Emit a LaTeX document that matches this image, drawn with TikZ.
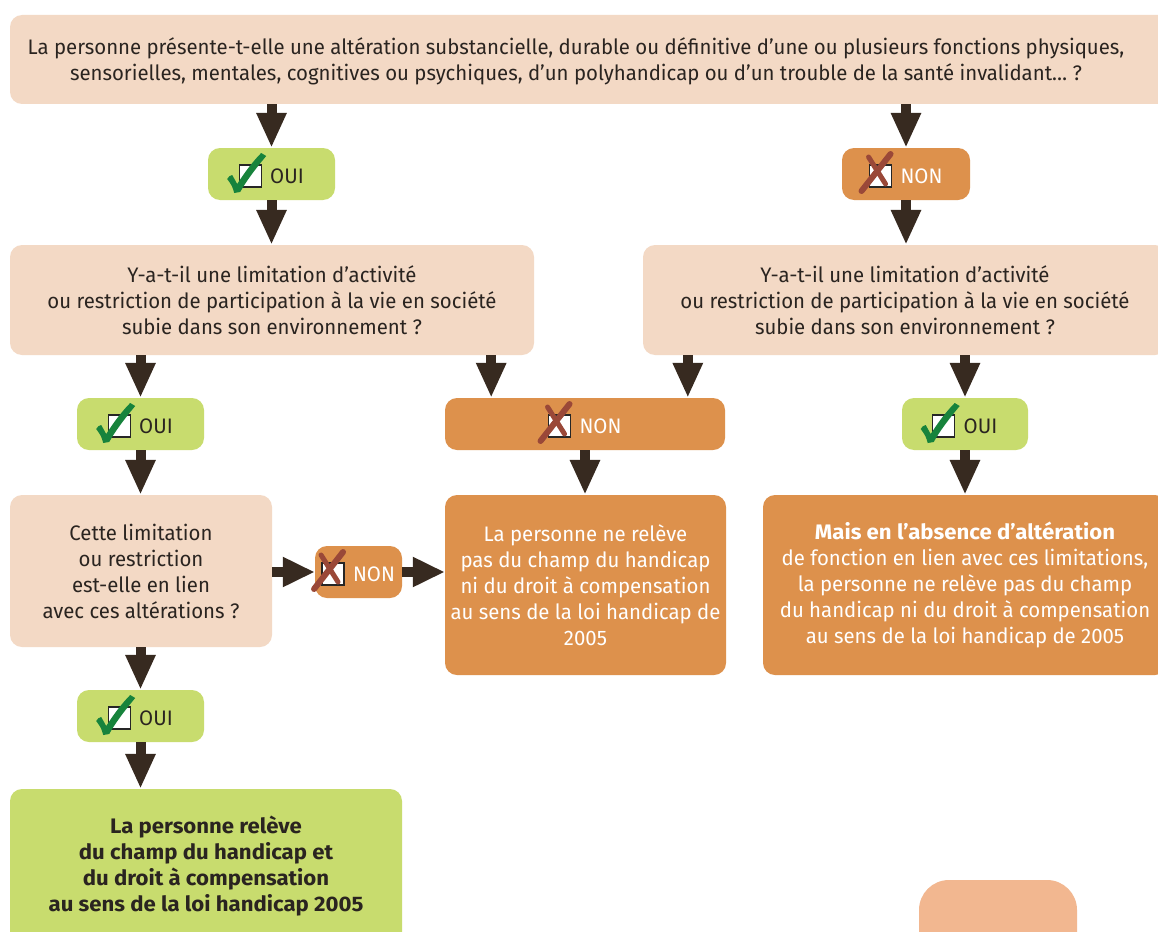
\documentclass[tikz,border=0pt]{standalone}
\usepackage{fontspec}
\setmainfont{Fira Sans}[FakeStretch=0.97]
\newfontfamily\boldfam{Fira Sans}[FakeStretch=1.055]
\usetikzlibrary{arrows.meta,calc}
\definecolor{beige}{HTML}{F3D9C5}
\definecolor{oui}{HTML}{C8DC6E}
\definecolor{non}{HTML}{DD914C}
\definecolor{pale}{HTML}{F2B790}
\definecolor{arrowc}{HTML}{372A20}
\definecolor{txt}{HTML}{2A2420}
\definecolor{chkgreen}{HTML}{17833C}
\definecolor{xred}{HTML}{9A4838}
\tikzset{
  box/.style={rectangle, rounded corners=12pt, inner sep=0pt, align=center, text=txt},
  qbox/.style={box, fill=beige},
  ouibox/.style={box, fill=oui, text height=18pt, text depth=0pt},
  nonbox/.style={box, fill=non, text=white},
  smallnon/.style={nonbox, text height=18pt, text depth=0pt},
  arr/.style={draw=arrowc, line width=10pt, -{Triangle[width=28pt,length=35pt]}},
  harr/.style={draw=arrowc, line width=10pt, -{Triangle[width=28pt,length=32pt]}},
  chkicon/.pic={
    \draw[line width=1.1pt, fill=white, draw=black!85] (-11,-11) rectangle (11,11);
    \fill[chkgreen] (-23,3) .. controls (-21,0) .. (-18,-1) -- (-13,8)
       .. controls (-4,-6) and (4,-16) .. (11,-23) -- (16,-20)
       .. controls (6,-8) and (-4,5) .. (-10,16) -- (-16,17)
       .. controls (-18,10) .. (-23,3) -- cycle;
  },
  xicon/.pic={
    \draw[line width=1.1pt, fill=white, draw=black!85] (-11,-11) rectangle (11,11);
    \draw[xred, line width=6pt, line cap=round] (-19,15) -- (10,-22);
    \draw[xred, line width=5pt, line cap=round] (-12,-19) -- (5,8);
  }
}
\newcommand\iconsp{\hspace*{31pt}}
\begin{document}
\begin{tikzpicture}[x=1pt,y=-1pt,font=\fontsize{21}{26}\selectfont]
\clip (0,0) rectangle (1158,931);
\fill[white] (0,0) rectangle (1158,931);
% boxes
\node[qbox, minimum width=1160pt, minimum height=89pt] (q1) at (590,59.5) {};
\node[align=center, text=txt, inner sep=0pt] (q1t) at (576,61)
  {La personne présente-t-elle une altération substancielle, durable ou définitive d’une ou plusieurs fonctions physiques,\\
   sensorielles, mentales, cognitives ou psychiques, d’un polyhandicap ou d’un trouble de la santé invalidant… ?};
\node[ouibox, minimum width=127pt, minimum height=52pt] (o1) at (271.5,174) {\iconsp OUI};
\node[smallnon, minimum width=128pt, minimum height=52pt] (n1) at (906,174) {\iconsp NON};
\node[qbox, minimum width=524pt, minimum height=110pt] (b2l) at (272,300)
  {Y-a-t-il une limitation d’activité\\ ou restriction de participation à la vie en société\\ subie dans son environnement ?};
\node[qbox, minimum width=524pt, minimum height=110pt] (b2r) at (905,300)
  {Y-a-t-il une limitation d’activité\\ ou restriction de participation à la vie en société\\ subie dans son environnement ?};
\node[ouibox, minimum width=127pt, minimum height=52pt] (o2) at (140.5,424) {\iconsp OUI};
\node[smallnon, minimum width=280pt, minimum height=52pt] (n2) at (585,424) {\iconsp NON};
\node[ouibox, minimum width=126pt, minimum height=52pt] (o3) at (965,424) {\iconsp OUI};
\node[qbox, minimum width=262pt, minimum height=152pt] (b3l) at (141,571)
  {Cette limitation\\ ou restriction\\ est-elle en lien\\ avec ces altérations ?};
\node[smallnon, minimum width=87pt, minimum height=52pt] (n3) at (358.5,572) {\iconsp NON};
\node[nonbox, minimum width=281pt, minimum height=180pt] (b3m) at (585.5,585)
  {La personne ne relève\\ pas du champ du handicap\\ ni du droit à compensation\\ au sens de la loi handicap de\\ 2005};
\node[nonbox, minimum width=404pt, minimum height=180pt] (b3r) at (965,585)
  {{\boldfam\bfseries Mais en l’absence d’altération}\\ de fonction en lien avec ces limitations,\\ la personne ne relève pas du champ\\ du handicap ni du droit à compensation\\ au sens de la loi handicap de 2005};
\node[ouibox, minimum width=127pt, minimum height=52pt] (o4) at (140.5,716) {\iconsp OUI};
\node[box, fill=oui, minimum width=392pt, minimum height=155pt, font=\fontsize{21}{26}\boldfam\bfseries] (fin) at (206,866.5)
  {La personne relève\\ du champ du handicap et\\ du droit à compensation\\ au sens de la loi handicap 2005};
\node[rectangle, rounded corners=30pt, fill=pale, minimum width=158pt, minimum height=100pt, inner sep=0pt] (deco) at (998,930) {};
% icons
\foreach \n in {o1,o2,o3,o4} { \pic at ($(\n.text)+(11,-7)$) {chkicon}; }
\foreach \n in {n1,n2,n3} { \pic at ($(\n.text)+(11,-7)$) {xicon}; }
% arrows
\draw[arr] (q1.south -| o1.north) -- (o1.north);
\draw[arr] (o1.south) -- (o1.south |- b2l.north);
\draw[arr] (q1.south -| n1.north) -- (n1.north);
\draw[arr] (n1.south) -- (n1.south |- b2r.north);
\draw[arr] (b2l.south -| o2.north) -- (o2.north);
\draw[arr] ([xshift=-43pt]b2l.south east) -- ([xshift=-43pt]b2l.south east |- n2.north);
\draw[arr] ([xshift=45pt]b2r.south west) -- ([xshift=45pt]b2r.south west |- n2.north);
\draw[arr] (b2r.south -| o3.north) -- (o3.north);
\draw[arr] (o2.south) -- (o2.south |- b3l.north);
\draw[arr] (n2.south) -- (n2.south |- b3m.north);
\draw[arr] (o3.south) -- (o3.south |- b3r.north);
\draw[harr] (n3.west -| b3l.east) -- (n3.west);
\draw[harr] (n3.east) -- (n3.east -| b3m.west);
\draw[arr] (b3l.south -| o4.north) -- (o4.north);
\draw[arr] (o4.south) -- (o4.south |- fin.north);
\end{tikzpicture}
\end{document}
